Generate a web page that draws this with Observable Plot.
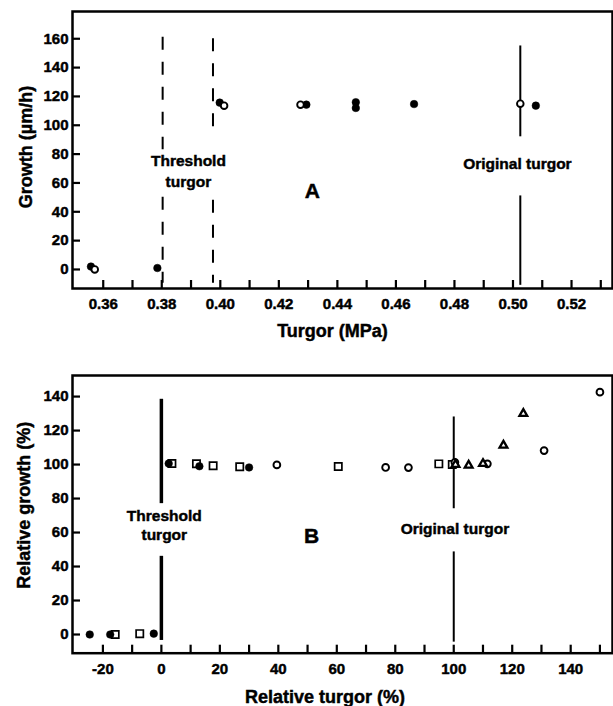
<!DOCTYPE html>
<html>
<head>
<meta charset="utf-8">
<script src="https://cdn.jsdelivr.net/npm/d3@7"></script>
<script src="https://cdn.jsdelivr.net/npm/@observablehq/plot@0.6"></script>
<style>
  html, body { margin: 0; padding: 0; background: white; }
  #chart svg { display: block; }
  #chart svg text { stroke: black; stroke-width: 0.45px; paint-order: stroke; }
</style>
</head>
<body>
<div id="chart"></div>
<script>
// ---------- Panel A data ----------
const filledA_x = [0.3558, 0.3785, 0.3998, 0.4294, 0.4463, 0.4463, 0.4662, 0.5078];
const filledA_y = [2, 1, 115.7, 114.3, 116, 112, 114.7, 113.6];
const openA_x = [0.3571, 0.4013, 0.4274, 0.5025];
const openA_y = [0, 113.6, 114.3, 115];

const threshA_x = [0.3803, 0.3803, 0.3975, 0.3975];
const threshA_y1 = [161, 50, 160, 48];
const threshA_y2 = [83, -9.5, 95, -9.5];
const origA_x = [0.5025, 0.5025];
const origA_y1 = [155, 51];
const origA_y2 = [92, -11];

const turgorTicksA = [0.36, 0.37, 0.38, 0.39, 0.40, 0.41, 0.42, 0.43, 0.44, 0.45, 0.46, 0.47, 0.48, 0.49, 0.50, 0.51, 0.52, 0.53];
const turgorLabelsA = [0.36, 0.38, 0.40, 0.42, 0.44, 0.46, 0.48, 0.50, 0.52];
const growthTicksA = [0, 20, 40, 60, 80, 100, 120, 140, 160];

// ---------- Panel B data ----------
const filledB_x = [-24.5, -17.5, -2.6, 2.5, 13, 30];
const filledB_y = [0, 0, 0.5, 100.6, 99, 98.3];
const squareB_x = [-15.8, -7.4, 3.6, 12, 17.7, 26.8, 60.5, 94.9, 99.5];
const squareB_y = [0, 0.5, 100.6, 100.5, 99.3, 98.7, 98.9, 100.4, 100];
const openB_x = [39.5, 76.7, 84.5, 100.4, 111.5, 130.9, 150];
const openB_y = [99.8, 98.3, 98.2, 101.3, 100.4, 108.2, 142.6];
const triB_x = [100.6, 105.1, 110, 117, 123.8];
const triB_y = [100, 99.5, 100.5, 111.3, 130];

const threshB_x = [0, 0];
const threshB_y1 = [138.4, 46];
const threshB_y2 = [77, -3.5];
const origB_x = [100, 100];
const origB_y1 = [128, 48.6];
const origB_y2 = [74, -4.5];

const turgorTicksB = [-20, -10, 0, 10, 20, 30, 40, 50, 60, 70, 80, 90, 100, 110, 120, 130, 140, 150];
const turgorLabelsB = [-20, 0, 20, 40, 60, 80, 100, 120, 140];
const growthTicksB = [0, 20, 40, 60, 80, 100, 120, 140];

// ---------- annotation texts ----------
const annotA_text = ["Threshold\nturgor", "Original turgor", "A"];
const annotA_x = [0.3891, 0.5015, 0.4314];
const annotA_y = [69.2, 74.3, 54.2];
const annotB_text = ["Threshold\nturgor", "Original turgor", "B"];
const annotB_x = [1.0, 100.4, 51.4];
const annotB_y = [64.7, 62.5, 57.6];

// ---------- build tables ----------
const pts = (xs, ys) => xs.map((x, i) => ({x, y: ys[i]}));
const segs = (xs, y1s, y2s) => xs.map((x, i) => ({x, y1: y1s[i], y2: y2s[i]}));
const labels = (ts, xs, ys) => ts.map((t, i) => ({t, x: xs[i], y: ys[i]}));

const FONT = "'Liberation Sans', Arial, Helvetica, sans-serif";
const style = {fontFamily: FONT, fontWeight: "bold", color: "black", background: "white", overflow: "visible"};

const W = 613;
const mL = 72, mR = 1;
const innerW = W - mL - mR;

// ---------- Panel A ----------
const hA = 345, mTA = 11, mBA = 57;
const innerHA = hA - mTA - mBA;
const annA = labels(annotA_text, annotA_x, annotA_y);

const plotA = Plot.plot({
  width: W, height: hA,
  marginLeft: mL, marginRight: mR, marginTop: mTA, marginBottom: mBA,
  style,
  x: {domain: [0.3495, 0.534]},
  y: {domain: [-13.2, 178.9]},
  marks: [
    Plot.tickX(turgorTicksA, {x: d => d, insetTop: innerHA - 8, strokeWidth: 2.2}),
    Plot.tickY(growthTicksA, {y: d => d, insetRight: innerW - 8, strokeWidth: 2.2}),
    Plot.axisX(turgorLabelsA, {tickSize: 0, tickPadding: 10, tickFormat: d => d.toFixed(2), fontSize: 15, fontWeight: "bold", label: null}),
    Plot.axisY(growthTicksA, {tickSize: 0, tickPadding: 4, tickFormat: d => String(d), fontSize: 15, fontWeight: "bold", label: null}),
    Plot.ruleX(segs(threshA_x, threshA_y1, threshA_y2), {x: "x", y1: "y1", y2: "y2", stroke: "black", strokeWidth: 2, strokeDasharray: "13,12"}),
    Plot.ruleX(segs(origA_x, origA_y1, origA_y2), {x: "x", y1: "y1", y2: "y2", stroke: "black", strokeWidth: 2}),
    Plot.dot(pts(filledA_x, filledA_y), {x: "x", y: "y", r: 3.8, fill: "black", stroke: "black", strokeWidth: 0.5}),
    Plot.dot(pts(openA_x, openA_y), {x: "x", y: "y", r: 3.3, fill: "white", stroke: "black", strokeWidth: 1.9}),
    Plot.text(annA.slice(0, 2), {x: "x", y: "y", text: "t", fontSize: 15.5, fontWeight: "bold", lineHeight: 1.4, fill: "black"}),
    Plot.text(annA.slice(2), {x: "x", y: "y", text: "t", fontSize: 21, fontWeight: "bold", fill: "black"}),
    Plot.text(["Turgor (MPa)"], {frameAnchor: "bottom", textAnchor: "middle", lineAnchor: "middle", dy: 43, dx: -10, fontSize: 18, fontWeight: "bold", fill: "black"}),
    Plot.text(["Growth (µm/h)"], {frameAnchor: "left", textAnchor: "middle", lineAnchor: "middle", rotate: -90, dx: -46.6, dy: -3, fontSize: 18, fontWeight: "bold", fill: "black"}),
    Plot.frame({stroke: "black", strokeWidth: 2.5})
  ]
});

// ---------- Panel B ----------
const hB = 361, mTB = 30, mBB = 53.3;
const innerHB = hB - mTB - mBB;
const annB = labels(annotB_text, annotB_x, annotB_y);

const plotB = Plot.plot({
  width: W, height: hB,
  marginLeft: mL, marginRight: mR, marginTop: mTB, marginBottom: mBB,
  style,
  x: {domain: [-30.4, 154.3]},
  y: {domain: [-11, 152.4]},
  marks: [
    Plot.tickX(turgorTicksB, {x: d => d, insetTop: innerHB - 8, strokeWidth: 2.2}),
    Plot.tickY(growthTicksB, {y: d => d, insetRight: innerW - 8, strokeWidth: 2.2}),
    Plot.axisX(turgorLabelsB, {tickSize: 0, tickPadding: 10, tickFormat: d => String(d), fontSize: 15, fontWeight: "bold", label: null}),
    Plot.axisY(growthTicksB, {tickSize: 0, tickPadding: 4, tickFormat: d => String(d), fontSize: 15, fontWeight: "bold", label: null}),
    Plot.ruleX(segs(threshB_x, threshB_y1, threshB_y2), {x: "x", y1: "y1", y2: "y2", stroke: "black", strokeWidth: 3.5}),
    Plot.ruleX(segs(origB_x, origB_y1, origB_y2), {x: "x", y1: "y1", y2: "y2", stroke: "black", strokeWidth: 2}),
    Plot.dot(pts(squareB_x, squareB_y), {x: "x", y: "y", symbol: "square", r: 4.1, fill: "white", stroke: "black", strokeWidth: 1.7}),
    Plot.dot(pts(openB_x, openB_y), {x: "x", y: "y", r: 3.4, fill: "white", stroke: "black", strokeWidth: 1.9}),
    Plot.dot(pts(triB_x, triB_y), {x: "x", y: "y", symbol: "triangle", r: 2.9, fill: "white", stroke: "black", strokeWidth: 2.3}),
    Plot.dot(pts(filledB_x, filledB_y), {x: "x", y: "y", r: 3.8, fill: "black", stroke: "black", strokeWidth: 0.5}),
    Plot.text(annB.slice(0, 2), {x: "x", y: "y", text: "t", fontSize: 15.5, fontWeight: "bold", lineHeight: 1.18, fill: "black"}),
    Plot.text(annB.slice(2), {x: "x", y: "y", text: "t", fontSize: 21, fontWeight: "bold", fill: "black"}),
    Plot.text(["Relative turgor (%)"], {frameAnchor: "bottom", textAnchor: "middle", lineAnchor: "middle", dy: 44, dx: -17.5, fontSize: 18, fontWeight: "bold", fill: "black"}),
    Plot.text(["Relative growth (%)"], {frameAnchor: "left", textAnchor: "middle", lineAnchor: "middle", rotate: -90, dx: -48.5, dy: -9, fontSize: 18, fontWeight: "bold", fill: "black"}),
    Plot.frame({stroke: "black", strokeWidth: 2.5})
  ]
});

const chart = document.getElementById("chart");
chart.appendChild(plotA);
chart.appendChild(plotB);
</script>
</body>
</html>
